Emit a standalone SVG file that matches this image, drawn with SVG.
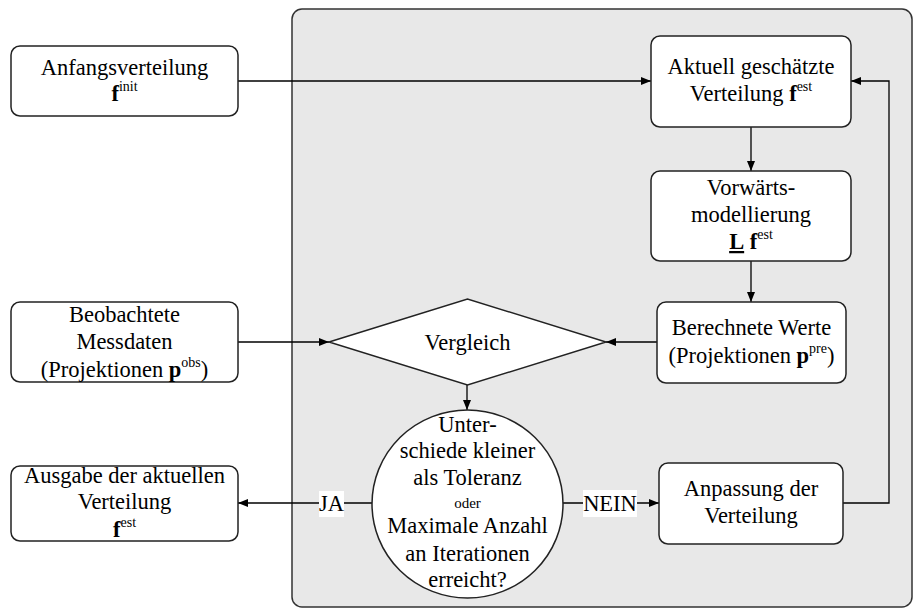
<svg xmlns="http://www.w3.org/2000/svg" width="914" height="610" viewBox="0 0 914 610">
<defs>
<marker id="ah" markerWidth="10" markerHeight="8" refX="10" refY="4" orient="auto" markerUnits="userSpaceOnUse">
<path d="M0,0 L10,4 L0,8 Z" fill="#000"/>
</marker>
<style>
.box{fill:#fff;stroke:#222;stroke-width:1.5}
.panel{fill:#e8e8e8;stroke:#333;stroke-width:1.5}
.t{font-family:'Liberation Serif','Tinos','Times New Roman','Times','Noto Serif','Nimbus Roman','FreeSerif','DejaVu Serif',serif;font-size:22.5px;fill:#000;text-anchor:middle}
.sup{font-size:14px}
.b{font-weight:bold}
.ln{fill:none;stroke:#000;stroke-width:1.3}
.lbl{fill:#fff}
</style>
</defs>
<rect class="panel" x="292" y="9" width="620" height="598" rx="10"/>

<g id="connectors">
<path class="ln" d="M238,81 H651" marker-end="url(#ah)"/>
<path class="ln" d="M751,127 V171" marker-end="url(#ah)"/>
<path class="ln" d="M751,261 V302" marker-end="url(#ah)"/>
<path class="ln" d="M657,342 H606" marker-end="url(#ah)"/>
<path class="ln" d="M238,342 H329" marker-end="url(#ah)"/>
<path class="ln" d="M467,385 V410" marker-end="url(#ah)"/>
<path class="ln" d="M563,503 H659" marker-end="url(#ah)"/>
<path class="ln" d="M372,503 H238" marker-end="url(#ah)"/>
<path class="ln" d="M843,503 H889 V81 H851" marker-end="url(#ah)"/>
<g id="label-nein">
<rect class="lbl" x="583" y="490" width="54" height="27"/>
<text class="t" x="610" y="511">NEIN</text>
</g>
<g id="label-ja">
<rect class="lbl" x="319" y="491" width="25" height="26"/>
<text class="t" x="331.5" y="511">JA</text>
</g>
</g>

<g id="anfangsverteilung">
<rect class="box" x="11" y="46" width="227" height="70" rx="9"/>
<text class="t" x="124.5" y="75">Anfangsverteilung</text>
<text class="t" x="124.5" y="101"><tspan class="b">f</tspan><tspan class="sup" dy="-10">init</tspan></text>
</g>

<g id="aktuell">
<rect class="box" x="651" y="36" width="200" height="91" rx="9"/>
<text class="t" x="751" y="74">Aktuell geschätzte</text>
<text class="t" x="751" y="101">Verteilung <tspan class="b">f</tspan><tspan class="sup" dy="-10">est</tspan></text>
</g>

<g id="vorwaerts">
<rect class="box" x="651" y="171" width="200" height="90" rx="9"/>
<text class="t" x="751" y="195">Vorwärts-</text>
<text class="t" x="751" y="222">modellierung</text>
<text class="t" x="751" y="249"><tspan class="b" text-decoration="underline">L</tspan> <tspan class="b">f</tspan><tspan class="sup" dy="-10">est</tspan></text>
</g>

<g id="berechnete">
<rect class="box" x="657" y="302" width="189" height="81" rx="9"/>
<text class="t" x="751.5" y="335">Berechnete Werte</text>
<text class="t" x="751.5" y="363">(Projektionen <tspan class="b">p</tspan><tspan class="sup" dy="-10">pre</tspan><tspan dy="10">)</tspan></text>
</g>

<g id="beobachtete">
<rect class="box" x="11" y="302" width="227" height="80" rx="9"/>
<text class="t" x="124.5" y="322">Beobachtete</text>
<text class="t" x="124.5" y="349">Messdaten</text>
<text class="t" x="124.5" y="377">(Projektionen <tspan class="b">p</tspan><tspan class="sup" dy="-10">obs</tspan><tspan dy="10">)</tspan></text>
</g>

<g id="vergleich">
<polygon class="box" points="329,342 467.5,299 606,342 467.5,385"/>
<text class="t" x="467.5" y="350">Vergleich</text>
</g>

<g id="entscheidung">
<ellipse class="box" cx="467.5" cy="504" rx="95.5" ry="94"/>
<text class="t" x="467.5" y="432">Unter-</text>
<text class="t" x="467.5" y="458">schiede kleiner</text>
<text class="t" x="467.5" y="485">als Toleranz</text>
<text class="t" x="467.5" y="508" style="font-size:15px">oder</text>
<text class="t" x="467.5" y="533">Maximale Anzahl</text>
<text class="t" x="467.5" y="561">an Iterationen</text>
<text class="t" x="467.5" y="587">erreicht?</text>
</g>

<g id="anpassung">
<rect class="box" x="659" y="463" width="184" height="81" rx="9"/>
<text class="t" x="751" y="496">Anpassung der</text>
<text class="t" x="751" y="523">Verteilung</text>
</g>

<g id="ausgabe">
<rect class="box" x="11" y="466" width="227" height="75" rx="9"/>
<text class="t" x="124.5" y="483">Ausgabe der aktuellen</text>
<text class="t" x="124.5" y="509">Verteilung</text>
<text class="t" x="124.5" y="537"><tspan class="b">f</tspan><tspan class="sup" dy="-10">est</tspan></text>
</g>
</svg>
